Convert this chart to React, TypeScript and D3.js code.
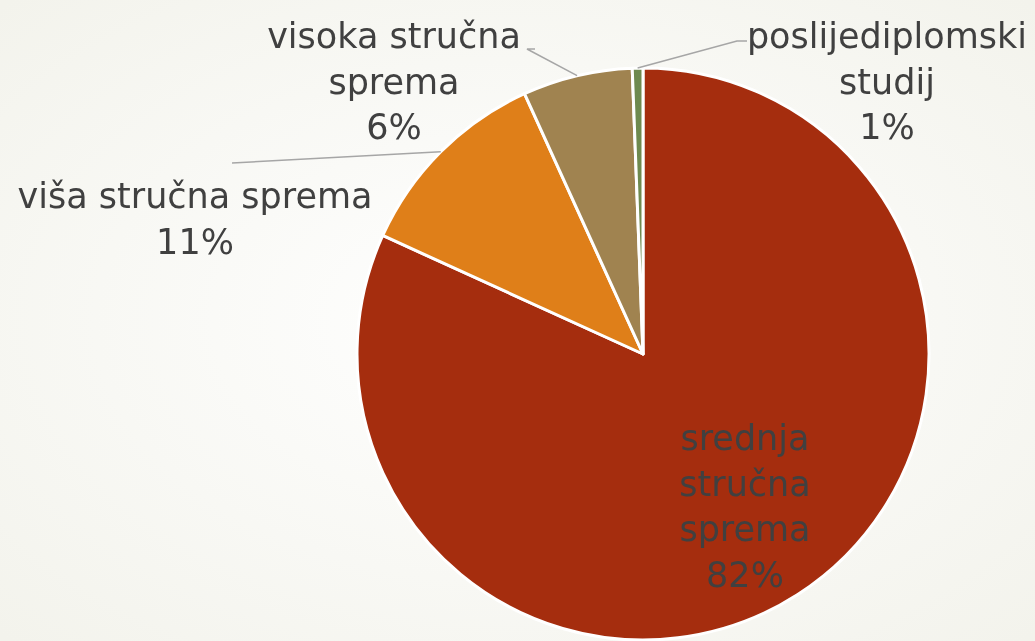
import * as d3 from "d3";

// stručna sprema — udio zaposlenih
const categories = ["srednja stručna sprema", "viša stručna sprema", "visoka stručna sprema", "poslijediplomski studij"];
const values = [81.8, 11.4, 6.2, 0.6];
const colors = ["#a52d0e", "#df7f19", "#a08350", "#6e8a4f"];
// how each label is broken into lines (last line gets the percentage)
const labelLines = [
     ["srednja", "stručna", "sprema"],
     ["viša stručna sprema"],
     ["visoka stručna", "sprema"],
     ["poslijediplomski", "studij"],
];

const W = 1035;
const H = 641;

export default function App() {
     const cx = 643;
     const cy = 354;
     const r = 286;
     const total = d3.sum(values);

     const pie = d3.pie<number>().sort(null).value((d) => d);
     const arcs = pie(values);
     const arc = d3.arc<d3.PieArcDatum<number>>().innerRadius(0).outerRadius(r);
     const edge = d3.arc<d3.PieArcDatum<number>>().innerRadius(r).outerRadius(r);

     // label block centre (x) and first baseline (y), relative to pie centre
     const labelPos = [
          { x: 102, y: 96, leader: null as null | number[][] },
          { x: -448, y: -146, leader: [[-411, -191]] },
          { x: -249, y: -306, leader: [[-108, -305], [-116, -305]] },
          { x: 244, y: -306, leader: [[104, -313], [94, -313]] },
     ];
     const lineH = 45.5;

     return (
          <div style={{ position: "fixed", left: 0, top: 0, width: W, height: H }}>
               <svg width={W} height={H} style={{ display: "block" }}>
                    <defs>
                         <radialGradient id="bg" cx="50%" cy="50%" r="70%">
                              <stop offset="0%" stopColor="#ffffff" />
                              <stop offset="100%" stopColor="#f3f3ec" />
                         </radialGradient>
                    </defs>
                    <rect width={W} height={H} fill="url(#bg)" />
                    <g transform={`translate(${cx},${cy})`}>
                         {arcs.map((a, i) => (
                              <path key={i} d={arc(a) || ""} fill={colors[i]} stroke="#ffffff" strokeWidth={3} strokeLinejoin="round" />
                         ))}
                         {arcs.map((a, i) => {
                              const lp = labelPos[i];
                              if (!lp.leader) return null;
                              const [ex, ey] = edge.centroid(a);
                              const pts = [[ex, ey], ...lp.leader.slice().reverse()];
                              return (
                                   <polyline key={"l" + i} points={pts.map((p) => p.join(",")).join(" ")} fill="none" stroke="#a6a6a6" strokeWidth={1.5} />
                              );
                         })}
                         {arcs.map((a, i) => {
                              const lp = labelPos[i];
                              const pct = Math.round((values[i] / total) * 100) + "%";
                              const lines = [...labelLines[i], pct];
                              return (
                                   <text key={"t" + i} x={lp.x} y={lp.y} textAnchor="middle" fontFamily="DejaVu Sans, sans-serif" fontSize={35} fill="#404040">
                                        {lines.map((ln, j) => (
                                             <tspan key={j} x={lp.x} y={lp.y + j * lineH}>{ln}</tspan>
                                        ))}
                                   </text>
                              );
                         })}
                    </g>
               </svg>
          </div>
     );
}
